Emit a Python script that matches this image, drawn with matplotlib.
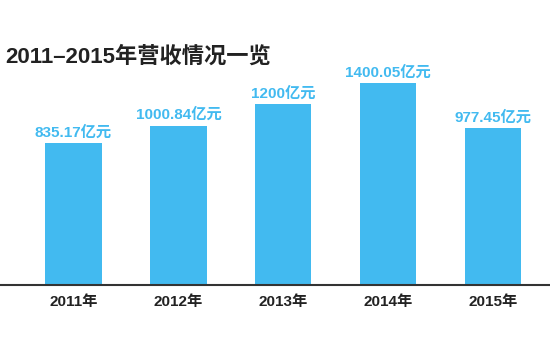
import matplotlib
matplotlib.use("Agg")
import matplotlib.pyplot as plt
import numpy as np

plt.rcParams['font.family'] = ['Liberation Sans', 'Noto Sans CJK SC', 'DejaVu Sans']

title = "2011–2015年营收情况一览"
years = ["2011年", "2012年", "2013年", "2014年", "2015年"]
values = [835.17, 1000.84, 1200, 1400.05, 977.45]
value_labels = ["835.17亿元", "1000.84亿元", "1200亿元", "1400.05亿元", "977.45亿元"]

BASE = -500
bar_color = "#42BAF0"

fig = plt.figure(figsize=(5.5, 3.5), dpi=100)
ax = fig.add_axes([0, 65/350, 1, 255/350])
x = np.arange(len(years))
heights = np.array(values) - BASE
ax.bar(x, heights, bottom=BASE, width=0.535, color=bar_color)
ax.set_xlim(-0.7, 4.54)
ax.set_ylim(BASE, 1901)
for xi, v, lab in zip(x, values, value_labels):
    ax.annotate(lab, (xi, v), xytext=(0, 2.5), textcoords="offset points",
                ha="center", va="bottom", color=bar_color, fontsize=11, fontweight="bold")
for s in ["top", "right", "left"]:
    ax.spines[s].set_visible(False)
ax.spines["bottom"].set_color("#333333")
ax.spines["bottom"].set_linewidth(1.5)
ax.set_yticks([])
ax.set_xticks(x)
ax.set_xticklabels(years, fontsize=11, fontweight="bold", color="#222222")
ax.tick_params(axis="x", length=0, pad=7)
fig.text(5/550, 1 - 57/350, title, fontsize=16, fontweight="bold", color="#222222",
         ha="left", va="center")
fig.savefig("out.png", dpi=100)
